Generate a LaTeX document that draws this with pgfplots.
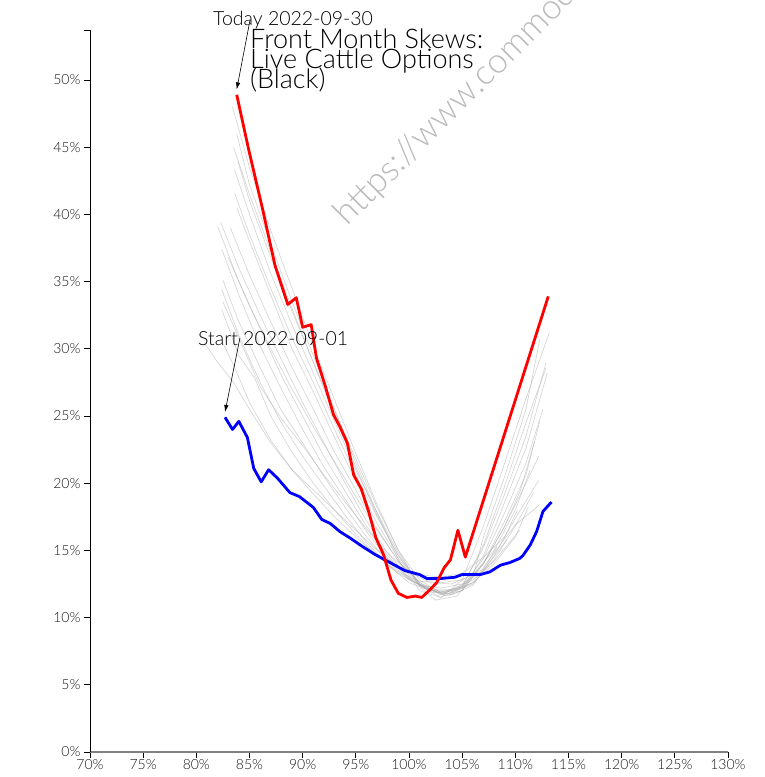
\documentclass[border=0pt]{standalone}
\usepackage{pgfplots}
\pgfplotsset{compat=1.18}
\usepackage{fontspec}
\setmainfont{Lato}[UprightFont=* Light]
\usetikzlibrary{arrows.meta}
\definecolor{histgray}{RGB}{165,165,165}
\pgfplotsset{histline/.style={draw=histgray, draw opacity=0.5, line width=0.6pt, mark=none}}
\begin{document}
\begin{tikzpicture}
\begin{axis}[
  scale only axis, width=638pt, height=722pt,
  xmin=70, xmax=130, ymin=0, ymax=53.72,
  axis lines*=left,
  x axis line style={draw=gray, line width=1.8pt},
  y axis line style={draw=black, line width=0.8pt},
  xtick={70,75,...,130},
  xticklabels={70\%,75\%,80\%,85\%,90\%,95\%,100\%,105\%,110\%,115\%,120\%,125\%,130\%},
  ytick={0,5,...,50},
  yticklabels={0\%,5\%,10\%,15\%,20\%,25\%,30\%,35\%,40\%,45\%,50\%},
  extra y ticks={53.72}, extra y tick labels={},
  tick style={black, line width=0.7pt},
  tick align=outside, major tick length=6pt,
  xticklabel style={font=\fontsize{14}{14}\selectfont, text=black!90, yshift=2pt},
  yticklabel style={font=\fontsize{14}{14}\selectfont, text=black!90},
  clip=false,
]
% watermark
\node[overlay, rotate=45, anchor=base west, text=black!27, font=\fontsize{35}{35}\selectfont]
  at (axis cs:94.0,38.9) {https://www.commoditydata.com};

% history (grey)
\addplot[histline] coordinates {(82.5,30.4)(83.5,28.8)(85,26.0)(87,23.2)(89,21.0)(91,19.2)(93,17.5)(95,16.0)(97,14.6)(99,13.4)(101,12.7)(103,12.6)(105,12.8)(107,13.6)(108.3,15.3)};
\addplot[histline] coordinates {(82.4,32.9)(84,29.5)(85.5,27.8)(87,25.0)(89,22.3)(91,20.0)(93,18.0)(95,16.2)(97,14.6)(99,13.3)(101,12.4)(103,12.2)(105,12.5)(107,13.5)(109.2,15.8)};
\addplot[histline] coordinates {(82.4,34.4)(84,31.0)(86,27.5)(88,24.5)(90,22.0)(92,19.8)(94,17.6)(96,15.6)(98,13.9)(100,12.6)(102,12.0)(104,12.1)(106,12.8)(108,14.2)(110.4,16.5)};
\addplot[histline] coordinates {(82.5,35.1)(84,32.0)(86,28.6)(88,25.4)(90,23.0)(92,20.5)(94,18.2)(96,16.0)(98,14.2)(100,12.8)(102,12.1)(104,12.0)(106,12.6)(108,14.0)(110,16.0)(111.2,18.2)};
\addplot[histline] coordinates {(82.4,37.4)(84,34.0)(86,30.2)(88,27.0)(90,24.0)(92,21.2)(94,18.8)(96,16.4)(98,14.4)(100,12.9)(102,12.0)(104,11.9)(106,12.5)(108,14.3)(110,16.8)(111.7,19.3)};
\addplot[histline] coordinates {(82.0,39.1)(84,35.0)(86,31.5)(88,28.0)(90,25.0)(92,22.0)(94,19.4)(96,16.8)(98,14.6)(100,12.9)(102,11.9)(104,11.8)(106,12.6)(108,14.8)(110,16.9)(112.3,18.4)};
\addplot[histline] coordinates {(82.3,39.4)(84,36.0)(86,32.5)(88,29.2)(90,26.0)(92,23.0)(94,20.0)(96,17.2)(98,14.8)(100,13.0)(102,12.0)(104,11.7)(106,12.4)(108,14.6)(110,17.4)(112.2,20.2)};
\addplot[histline] coordinates {(83.2,39.0)(85,35.5)(87,32.0)(89,28.6)(91,25.5)(93,22.3)(95,19.5)(97,16.6)(99,14.2)(101,12.4)(103,11.8)(105,12.2)(107,14.0)(109,16.8)(110.5,19.5)(111.8,23.1)};
\addplot[histline] coordinates {(83.6,41.6)(85,38.5)(87,34.5)(89,30.8)(91,27.5)(93,24.0)(95,20.6)(97,17.5)(99,14.6)(101,12.6)(103,11.7)(105,12.0)(107,14.0)(109,17.2)(111,20.6)(112.3,24.6)};
\addplot[histline] coordinates {(83.9,44.0)(85,41.0)(87,36.8)(89,32.8)(91,29.0)(93,25.4)(95,21.8)(97,18.2)(99,15.0)(101,12.8)(103.5,11.6)(105,12.0)(107,14.6)(109,18.6)(111,22.6)(113.0,28.2)};
\addplot[histline] coordinates {(83.6,43.3)(85,40.0)(87,35.6)(89,31.8)(91,28.2)(93,24.6)(95,21.0)(97,17.8)(99,14.8)(101,12.5)(103,11.7)(105,12.4)(107,15.2)(109,19.2)(111,23.5)(112.9,29.0)};
\addplot[histline] coordinates {(83.4,48.0)(85,43.5)(87,38.8)(89,34.5)(91,30.2)(93,26.2)(95,22.2)(97,18.4)(99,15.0)(101,12.3)(102.5,11.3)(104.5,11.6)(106,13.0)(107,16.0)(109,20.5)(111,25.5)(112.3,30.7)};
\addplot[histline] coordinates {(83.8,46.0)(85,42.2)(87,37.8)(89,33.5)(91,29.5)(93,25.5)(95,21.5)(97,17.8)(99,14.3)(101,12.0)(103,11.5)(105,12.8)(107,16.8)(109,21.5)(111,26.3)(113.2,31.2)};
\addplot[histline] coordinates {(80.8,30.4)(82,29.0)(83.5,27.5)(85,25.5)(87,23.0)(89,21.0)(91,19.5)(93,18.0)(95,16.5)(97,15.0)(99,13.8)(101,13.2)(103,13.0)(105,13.3)(107,14.5)(109,16.0)(110.2,18.0)};
\addplot[histline] coordinates {(82.5,33.5)(84,30.8)(86,27.2)(88,24.8)(90,22.8)(92,20.6)(94,18.6)(96,16.6)(98,14.8)(100,13.4)(102,12.6)(104,12.5)(106,13.2)(108,15.0)(110,18.0)(111.4,21.0)};
\addplot[histline] coordinates {(83.0,36.8)(85,33.2)(87,30.0)(89,27.0)(91,24.2)(93,21.6)(95,19.0)(97,16.5)(99,14.2)(101,12.6)(103,11.9)(105,12.3)(107,14.0)(109,16.8)(111,20.0)(112.2,22.0)};
\addplot[histline] coordinates {(83.8,40.5)(85,38.0)(87,34.0)(89,30.0)(91,26.8)(93,23.4)(95,20.2)(97,17.0)(99,14.4)(101,12.5)(103,11.8)(105,12.3)(107,14.4)(109,17.8)(111,21.5)(112.6,25.5)};
\addplot[histline] coordinates {(83.5,45.0)(85,41.5)(87,37.2)(89,33.0)(91,29.0)(93,25.0)(95,21.2)(97,17.6)(99,14.6)(101,12.4)(103,11.5)(105,12.3)(107,15.4)(109,19.8)(111,24.5)(112.9,28.6)};

% Start (blue)
\addplot[blue, line width=2.8pt, line join=round, mark=none] coordinates {
(82.7,24.9)(83.4,24.0)(84.0,24.6)(84.8,23.4)(85.4,21.1)(86.1,20.1)(86.8,21.0)(87.6,20.4)
(88.8,19.3)(89.7,19.0)(91.0,18.2)(91.8,17.3)(92.6,17.0)(93.5,16.4)(94.5,15.9)(95.6,15.3)
(96.8,14.7)(98.2,14.1)(99.6,13.5)(101.0,13.2)(101.7,12.9)(102.9,12.9)(104.3,13.0)(105.0,13.2)
(106.7,13.2)(107.6,13.4)(108.6,13.9)(109.5,14.1)(110.4,14.4)(110.7,14.6)(111.4,15.4)(112.0,16.4)
(112.6,17.9)(113.4,18.6)};

% Today (red)
\addplot[red, line width=2.8pt, line join=round, mark=none] coordinates {
(83.8,48.9)(84.9,44.9)(86.2,40.5)(87.4,36.2)(88.6,33.3)(89.4,33.8)(90.0,31.6)(90.8,31.8)
(91.3,29.3)(92.1,27.3)(92.9,25.1)(93.5,24.2)(94.2,23.0)(94.8,20.6)(95.5,19.6)(96.2,17.9)
(96.9,15.9)(97.6,14.7)(98.3,12.8)(99.0,11.8)(99.8,11.5)(100.6,11.6)(101.2,11.5)(102.0,12.1)
(102.6,12.6)(103.3,13.7)(103.9,14.3)(104.6,16.5)(105.3,14.5)(113.1,33.9)};

% annotations
\draw[black, line width=0.6pt, -{Latex[length=7pt,width=4.5pt]}] (axis cs:85.05,54.46) -- (axis cs:83.8,49.3);
\draw[black, line width=0.6pt, -{Latex[length=7pt,width=4.5pt]}] (axis cs:84.1,30.8) -- (axis cs:82.7,25.3);
\node[anchor=base west, inner sep=0pt, font=\fontsize{19.5}{19.5}\selectfont] at (axis cs:81.57,54.05) {Today 2022-09-30};
\node[anchor=base west, inner sep=0pt, font=\fontsize{19.5}{19.5}\selectfont] at (axis cs:80.16,30.28) {Start 2022-09-01};
\node[anchor=base west, inner sep=0pt, font=\fontsize{27}{27}\selectfont] at (axis cs:85.05,52.38) {Front Month Skews:};
\node[anchor=base west, inner sep=0pt, font=\fontsize{27}{27}\selectfont] at (axis cs:85.05,50.82) {Live Cattle Options};
\node[anchor=base west, inner sep=0pt, font=\fontsize{27}{27}\selectfont] at (axis cs:85.05,49.40) {(Black)};
\coordinate (O) at (rel axis cs:0,0);
\end{axis}
\pgfresetboundingbox
\path[use as bounding box] ([shift={(-90pt,-25pt)}]O) rectangle ([shift={(675pt,752pt)}]O);
\end{tikzpicture}
\end{document}
